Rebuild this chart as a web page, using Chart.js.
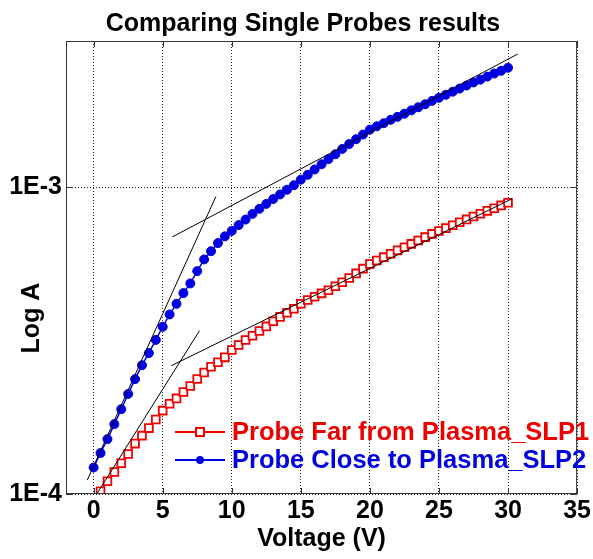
<!DOCTYPE html>
<html>
<head>
<meta charset="utf-8">
<script src="https://cdn.jsdelivr.net/npm/chart.js@4.4.1/dist/chart.umd.min.js"></script>
<style>
  body { margin: 0; background: #fff; }
</style>
</head>
<body>
<canvas id="probeChart" width="593" height="559"></canvas>
<script>
// Probe far from plasma (SLP1), V and A
var voltsFar = [0.5, 1, 1.5, 2, 2.5, 3, 3.5, 4, 4.5, 5, 5.5, 6, 6.5, 7, 7.5, 8, 8.5, 9, 9.5, 10,
    10.5, 11, 11.5, 12, 12.5, 13, 13.5, 14, 14.5, 15, 15.5, 16, 16.5, 17, 17.5, 18, 18.5, 19, 19.5, 20,
    20.5, 21, 21.5, 22, 22.5, 23, 23.5, 24, 24.5, 25, 25.5, 26, 26.5, 27, 27.5, 28, 28.5, 29, 29.5, 30];
var currentFar = [1.02e-4, 1.10e-4, 1.18e-4, 1.26e-4, 1.35e-4, 1.46e-4, 1.55e-4, 1.64e-4, 1.75e-4, 1.87e-4,
    1.97e-4, 2.05e-4, 2.15e-4, 2.25e-4, 2.37e-4, 2.49e-4, 2.60e-4, 2.69e-4, 2.79e-4, 2.95e-4,
    3.06e-4, 3.18e-4, 3.28e-4, 3.40e-4, 3.52e-4, 3.66e-4, 3.78e-4, 3.90e-4, 4.02e-4, 4.17e-4,
    4.29e-4, 4.40e-4, 4.51e-4, 4.62e-4, 4.76e-4, 4.90e-4, 5.06e-4, 5.24e-4, 5.43e-4, 5.62e-4,
    5.77e-4, 5.92e-4, 6.07e-4, 6.23e-4, 6.38e-4, 6.54e-4, 6.71e-4, 6.88e-4, 7.05e-4, 7.20e-4,
    7.36e-4, 7.52e-4, 7.69e-4, 7.86e-4, 8.03e-4, 8.20e-4, 8.38e-4, 8.55e-4, 8.73e-4, 8.91e-4];

// Probe close to plasma (SLP2)
var voltsClose = [0, 0.5, 1, 1.5, 2, 2.5, 3, 3.5, 4, 4.5, 5, 5.5, 6, 6.5, 7, 7.5, 8, 8.5, 9, 9.5, 10,
    10.5, 11, 11.5, 12, 12.5, 13, 13.5, 14, 14.5, 15, 15.5, 16, 16.5, 17, 17.5, 18, 18.5, 19, 19.5, 20,
    20.5, 21, 21.5, 22, 22.5, 23, 23.5, 24, 24.5, 25, 25.5, 26, 26.5, 27, 27.5, 28, 28.5, 29, 29.5, 30];
var currentClose = [1.22e-4, 1.36e-4, 1.51e-4, 1.69e-4, 1.89e-4, 2.12e-4, 2.37e-4, 2.63e-4, 2.88e-4, 3.18e-4,
    3.51e-4, 3.85e-4, 4.17e-4, 4.52e-4, 4.86e-4, 5.33e-4, 5.82e-4, 6.19e-4, 6.58e-4, 6.92e-4,
    7.21e-4, 7.53e-4, 7.85e-4, 8.19e-4, 8.51e-4, 8.83e-4, 9.16e-4, 9.48e-4, 9.82e-4, 1.016e-3,
    1.059e-3, 1.099e-3, 1.143e-3, 1.189e-3, 1.236e-3, 1.282e-3, 1.334e-3, 1.384e-3, 1.435e-3, 1.486e-3,
    1.542e-3, 1.581e-3, 1.618e-3, 1.660e-3, 1.698e-3, 1.738e-3, 1.782e-3, 1.824e-3, 1.866e-3, 1.914e-3,
    1.959e-3, 2.004e-3, 2.051e-3, 2.099e-3, 2.148e-3, 2.198e-3, 2.244e-3, 2.296e-3, 2.350e-3, 2.399e-3,
    2.455e-3];

// straight fit lines, end points
var fitCloseLowV = [-0.46, 8.85], fitCloseLowA = [1.11e-4, 9.33e-4];
var fitCloseHighV = [5.7, 30.7], fitCloseHighA = [6.89e-4, 2.72e-3];
var fitFarLowV = [0.26, 7.67], fitFarLowA = [1.005e-4, 3.41e-4];
var fitFarHighV = [5.62, 30.3], fitFarHighA = [2.62e-4, 9.18e-4];

var xTicks = [0, 5, 10, 15, 20, 25, 30, 35];
var yTicks = [1e-4, 1e-3];
var yTickLabels = ['1E-4', '1E-3'];

var chartTitle = 'Comparing Single Probes results';
var yTitle = 'Log A';

var RED = '#ee0000';
var BLUE = '#0000e0';
var FONT = 'Liberation Sans, Arial, sans-serif';

function toPoints(xs, ys) {
    return xs.map(function(x, i) { return { x: x, y: ys[i] }; });
}

function fitLine(xs, ys) {
    return {
        data: toPoints(xs, ys),
        showLine: true,
        borderColor: '#000',
        borderWidth: 1,
        pointRadius: 0,
        order: 0
    };
}

// legend inside the plot (lower right, no box), plus the titles placed as in the original
var legendInside = {
    id: 'legendInside',
    afterDraw: function(chart) {
        var ctx = chart.ctx;
        var rows = chart.data.datasets.filter(function(d) { return d.label; });
        rows.forEach(function(ds, i) {
            var y = 432 + i * 28;
            ctx.save();
            ctx.strokeStyle = ds.borderColor;
            ctx.lineWidth = 2;
            ctx.beginPath();
            ctx.moveTo(175, y);
            ctx.lineTo(225, y);
            ctx.stroke();
            if (ds.pointStyle === 'rect') {
                ctx.fillStyle = '#fff';
                ctx.fillRect(196, y - 4, 8, 8);
                ctx.strokeRect(196, y - 4, 8, 8);
            } else {
                ctx.fillStyle = ds.borderColor;
                ctx.beginPath();
                ctx.arc(200, y, 4, 0, Math.PI * 2);
                ctx.fill();
            }
            ctx.fillStyle = ds.borderColor;
            ctx.font = 'bold 25.5px ' + FONT;
            ctx.textAlign = 'left';
            ctx.textBaseline = 'middle';
            ctx.fillText(ds.label, 232, y + 1);
            ctx.restore();
        });

        ctx.save();
        ctx.fillStyle = '#000';
        ctx.font = 'bold 25px ' + FONT;
        ctx.textAlign = 'center';
        ctx.textBaseline = 'middle';
        ctx.fillText(chartTitle, 303, 24);
        // y axis title sits below the middle of the axis
        ctx.translate(32, 318);
        ctx.rotate(-Math.PI / 2);
        ctx.fillText(yTitle, 0, 0);
        ctx.restore();
    }
};

// box round the plot with short inward ticks
var plotFrame = {
    id: 'plotFrame',
    afterDatasetsDraw: function(chart) {
        var a = chart.chartArea, ctx = chart.ctx;
        var xs = chart.scales.x, ys = chart.scales.y;
        ctx.save();
        ctx.strokeStyle = '#333';
        ctx.lineWidth = 1;
        ctx.strokeRect(a.left + 0.5, a.top + 0.5, a.right - a.left - 1, a.bottom - a.top - 1);
        ctx.beginPath();
        xTicks.forEach(function(v) {
            var px = Math.round(xs.getPixelForValue(v)) + 0.5;
            ctx.moveTo(px, a.top); ctx.lineTo(px, a.top + 6);
            ctx.moveTo(px, a.bottom); ctx.lineTo(px, a.bottom - 6);
        });
        yTicks.forEach(function(v) {
            var py = Math.round(ys.getPixelForValue(v)) + 0.5;
            ctx.moveTo(a.left, py); ctx.lineTo(a.left + 6, py);
            ctx.moveTo(a.right, py); ctx.lineTo(a.right - 6, py);
        });
        ctx.stroke();
        ctx.restore();
    }
};

var labelFont = { family: FONT, size: 25, weight: 'bold' };

new Chart(document.getElementById('probeChart').getContext('2d'), {
    type: 'scatter',
    data: {
        datasets: [
            fitLine(fitCloseLowV, fitCloseLowA),
            fitLine(fitCloseHighV, fitCloseHighA),
            fitLine(fitFarLowV, fitFarLowA),
            fitLine(fitFarHighV, fitFarHighA),
            {
                label: 'Probe Far from Plasma_SLP1',
                data: toPoints(voltsFar, currentFar),
                showLine: true,
                borderColor: RED,
                borderWidth: 1.5,
                pointStyle: 'rect',
                pointRadius: 5.5,
                pointBorderWidth: 1.8,
                pointBackgroundColor: '#fff',
                order: 1
            },
            {
                label: 'Probe Close to Plasma_SLP2',
                data: toPoints(voltsClose, currentClose),
                showLine: true,
                borderColor: BLUE,
                borderWidth: 1.5,
                pointStyle: 'circle',
                pointRadius: 4.5,
                pointBorderWidth: 1,
                pointBackgroundColor: BLUE,
                order: 1
            }
        ]
    },
    options: {
        responsive: false,
        animation: false,
        devicePixelRatio: 1,
        // top padding leaves room for the title drawn by the plugin
        layout: { padding: { top: 41, right: 15, bottom: 0, left: 0 } },
        plugins: {
            legend: { display: false },
            tooltip: { enabled: false },
            title: { display: false }
        },
        scales: {
            x: {
                type: 'linear',
                min: -2,
                max: 35,
                afterBuildTicks: function(s) { s.ticks = xTicks.map(function(v) { return { value: v }; }); },
                afterFit: function(s) { s.height = 65; },
                ticks: { color: '#000', font: labelFont, padding: 2, maxRotation: 0 },
                grid: { color: 'rgba(0,0,0,0.85)', drawTicks: false },
                border: { display: false, dash: [1, 2] },
                title: { display: true, text: 'Voltage (V)', color: '#000', font: labelFont, padding: { top: 0, bottom: 5 } }
            },
            y: {
                type: 'logarithmic',
                min: 1e-4,
                max: 3.0e-3,
                afterBuildTicks: function(s) { s.ticks = yTicks.map(function(v) { return { value: v }; }); },
                afterFit: function(s) { s.width = 66; },
                ticks: {
                    color: '#000',
                    font: labelFont,
                    padding: 4,
                    autoSkip: false,
                    callback: function(v) {
                        var i = yTicks.indexOf(v);
                        return i < 0 ? '' : yTickLabels[i];
                    }
                },
                grid: { color: 'rgba(0,0,0,0.85)', drawTicks: false },
                border: { display: false, dash: [1, 2] },
                title: { display: false }
            }
        }
    },
    plugins: [plotFrame, legendInside]
});
</script>
</body>
</html>
